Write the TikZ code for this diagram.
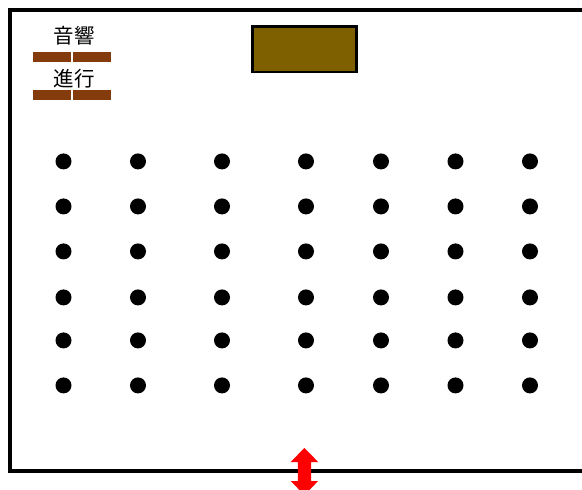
\documentclass[tikz,border=0pt]{standalone}
\usepackage{fontspec}
\newfontfamily\cjk{Noto Sans CJK JP}
\definecolor{deskbrown}{HTML}{7F6000}
\definecolor{barbrown}{HTML}{843C0C}
\tikzset{
    seat/.style={fill=black},
    bar/.style={fill=barbrown},
    lbl/.style={font=\cjk\fontsize{20.5pt}{24pt}\selectfont, inner sep=0pt},
}
\begin{document}
\begin{tikzpicture}[x=1pt, y=-1pt]
    \useasboundingbox (0, 0) rectangle (582, 490);
    \clip (0, 0) rectangle (582, 490);

    \coordinate (TR) at (582,   9.7);
    \coordinate (TL) at (10.3,  9.7);
    \coordinate (BL) at (10.3,  471.2);
    \coordinate (BR) at (582,   471.2);
    \draw[line width=4pt] (TR) -- (TL) -- (BL) -- (BR);

    \draw[line width=2.8pt, fill=deskbrown] (252.5, 26.3) rectangle (356.5, 71.9);

    \foreach \y in {52, 89.5} {
        \fill[bar] (33, \y) rectangle (71, \y+10);
        \fill[bar] (73, \y) rectangle (111, \y+10);
    }
    \node[lbl] (sound) at (74, 36) {音響};
    \node[lbl] (mc)    at (74, 79) {進行};

    \foreach \y in {161.4, 206.4, 251.4, 297.4, 340.4, 385.4} {
        \foreach \x in {63.5, 138, 222, 306, 381, 455.5, 530} {
            \fill[seat] (\x, \y) circle (8pt);
        }
    }

    \fill[red] (304.4, 448) -- (318.2, 462) -- (311, 462) -- (311, 481) -- (318.2, 481)
        -- (304.4, 495) -- (290.6, 481) -- (297.8, 481) -- (297.8, 462) -- (290.6, 462) -- cycle;
\end{tikzpicture}
\end{document}
